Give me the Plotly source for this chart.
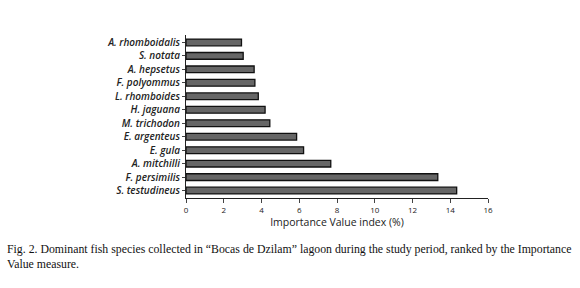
import plotly.graph_objects as go

species = ["S. testudineus", "F. persimilis", "A. mitchilli", "E. gula", "E. argenteus",
           "M. trichodon", "H. jaguana", "L. rhomboides", "F. polyommus", "A. hepsetus",
           "S. notata", "A. rhomboidalis"]
ivi = [14.34, 13.34, 7.67, 6.23, 5.86, 4.44, 4.19, 3.83, 3.65, 3.61, 3.03, 2.94]
xticks = [0, 2, 4, 6, 8, 10, 12, 14, 16]

fig = go.Figure()
fig.add_trace(go.Bar(
    x=ivi, y=species, orientation="h", width=0.5,
    marker=dict(color="#666666", line=dict(color="#111111", width=1.3)),
))

fig.update_layout(
    width=580, height=288,
    margin=dict(l=186, r=92, t=35, b=90),
    paper_bgcolor="white", plot_bgcolor="white",
    showlegend=False,
    font=dict(family="Open Sans", color="#222"),
    xaxis=dict(range=[0, 16], tickvals=xticks, ticks="outside", ticklen=4,
               showline=True, linecolor="#222", linewidth=1, showgrid=False, zeroline=False,
               tickfont=dict(size=8, color="#222"),
               title=dict(text="Importance Value index (%)", font=dict(size=10.5, color="#222"), standoff=5)),
    yaxis=dict(showline=True, linecolor="#222", linewidth=1, ticks="outside", ticklen=3,
               showgrid=False, range=[-0.55, 11.55],
               tickfont=dict(size=10, color="#222", family="Open Sans", style="italic", weight=600)),
    annotations=[
        dict(x=0, y=-0.26, xref="paper", yref="paper", xanchor="left", yanchor="top",
             xshift=-181, showarrow=False, align="left",
             text="Fig. 2. Dominant fish species collected in \u201cBocas de Dzilam\u201d lagoon during the study period, ranked by the Importance<br>Value measure.",
             font=dict(family="Liberation Serif", size=11.8, color="#111")),
    ],
)
fig.write_html("out.html", config={"displayModeBar": False},
               post_script="document.body.style.margin='0';")
